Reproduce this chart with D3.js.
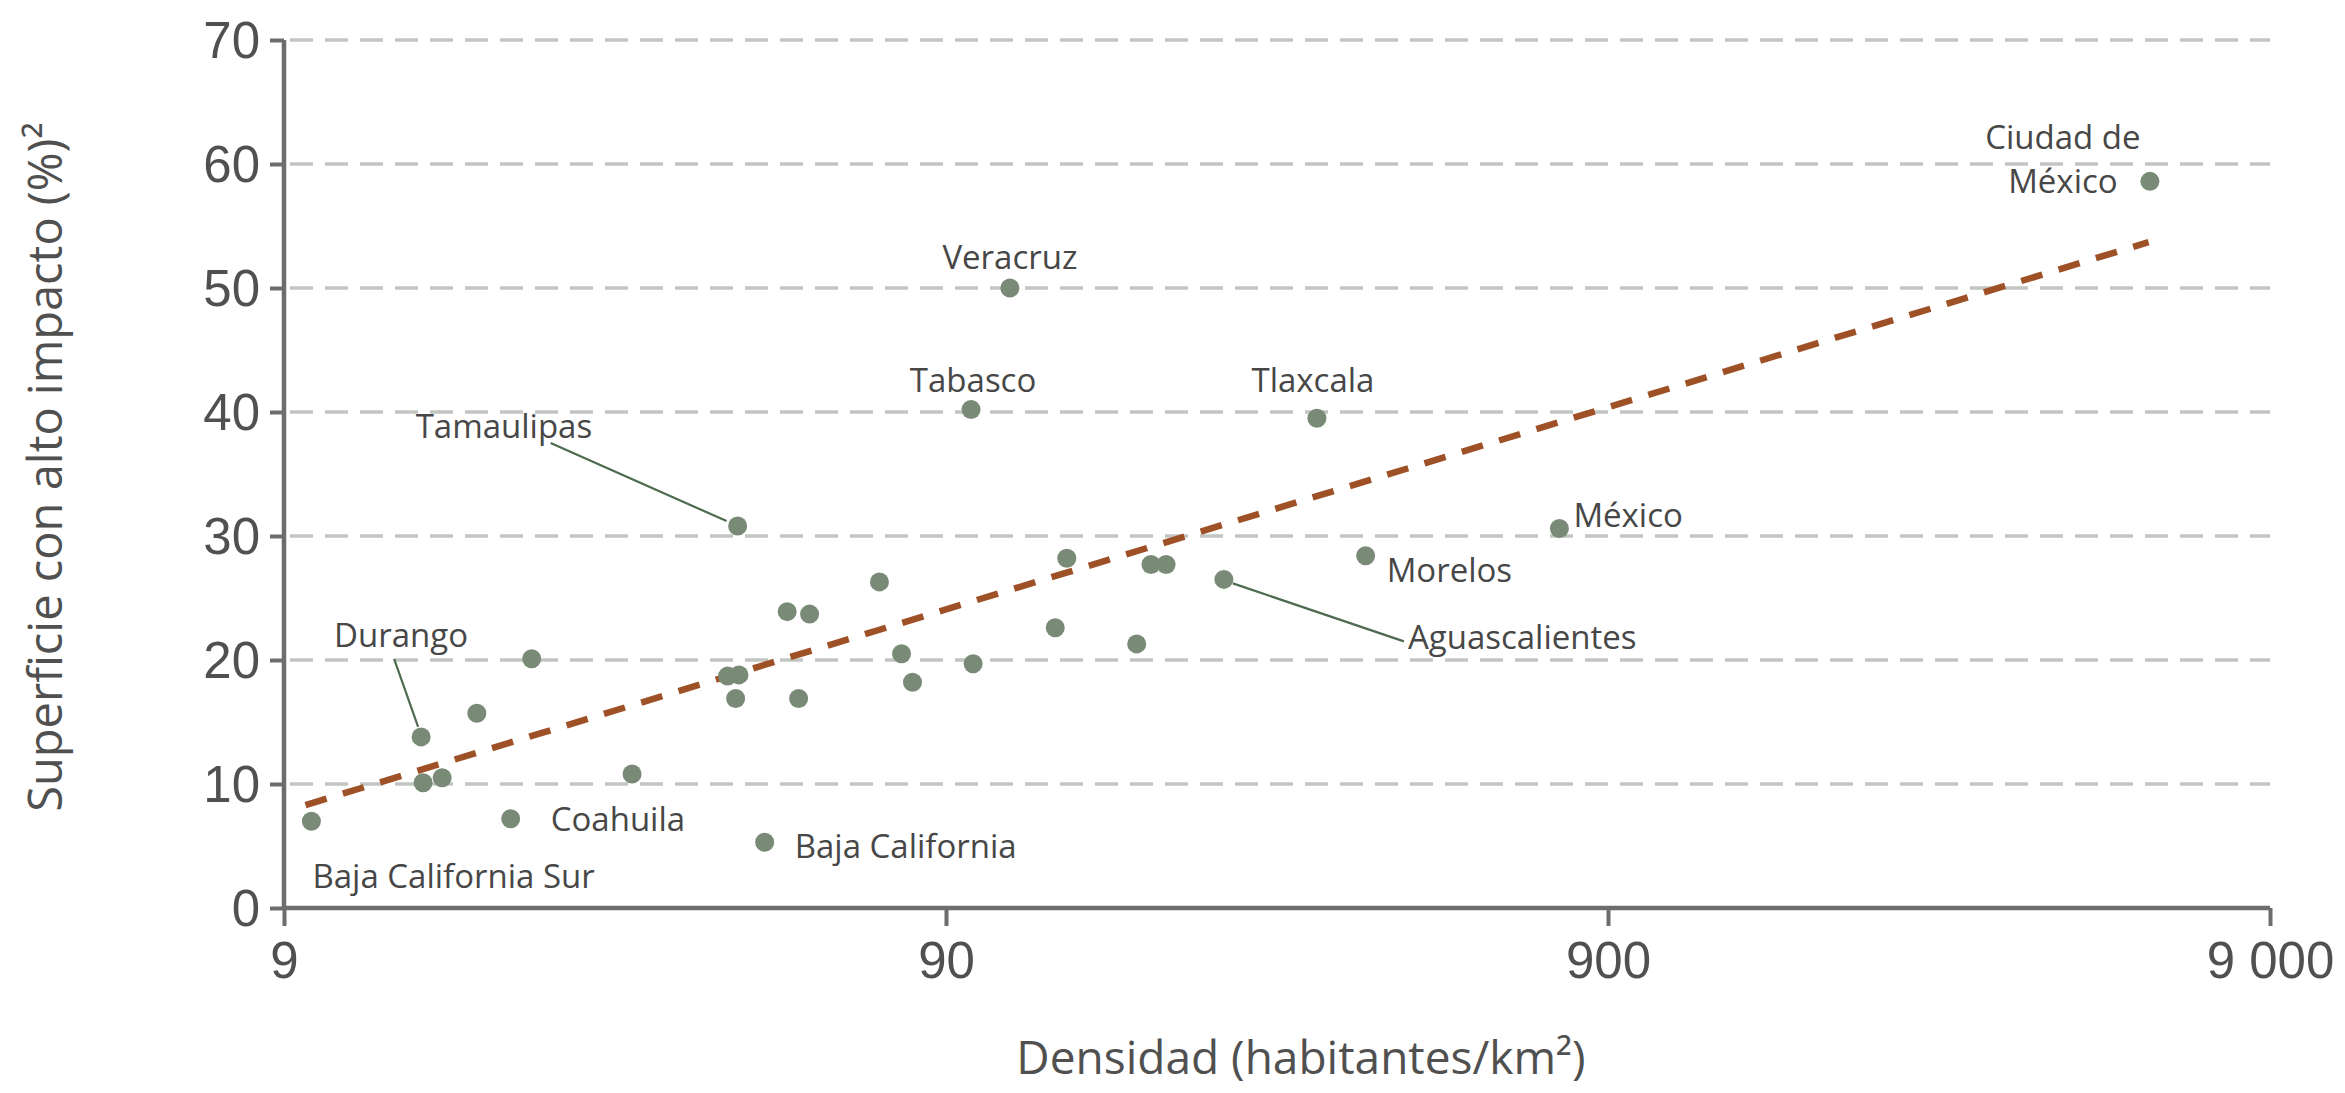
<!DOCTYPE html>
<html>
<head>
<meta charset="utf-8">
<script src="https://cdn.jsdelivr.net/npm/d3@7"></script>
<style>
  html, body { margin: 0; padding: 0; background: #ffffff; }
  svg { display: block; font-family: "Open Sans", "Noto Sans", sans-serif; }
</style>
</head>
<body>
<svg id="chart" width="2345" height="1093"></svg>
<script>
// ---- data ----
const states = ["Baja California Sur","Durango","E3","E4","E5","Coahuila","E7","E8","E9","E10","E11","Tamaulipas","Baja California","E14","E15","E16","E17","E18","E19","E20","Tabasco","Veracruz","E23","E24","E25","E26","E27","Aguascalientes","Tlaxcala","Morelos","México","Ciudad de México"];
const density = [9.9, 14.5, 14.6, 15.6, 17.6, 19.8, 21.3, 30.2, 42.1, 43.8, 43.3, 43.6, 47.9, 51.8, 56.0, 53.9, 71.4, 77.1, 80.1, 98.9, 98.2, 112.4, 131.6, 137.0, 174.7, 183.6, 193.5, 236.6, 327.0, 387.4, 760.0, 5927.0];
const surface = [7.0, 13.8, 10.1, 10.5, 15.7, 7.2, 20.1, 10.8, 18.7, 18.8, 16.9, 30.8, 5.3, 23.9, 23.7, 16.9, 26.3, 20.5, 18.2, 19.7, 40.2, 50.0, 22.6, 28.2, 21.3, 27.7, 27.7, 26.5, 39.5, 28.4, 30.6, 58.6];
const trendDensity = [9.7, 5900];
const trendSurface = [8.3, 53.7];
const xTicks = [9, 90, 900, 9000];
const xTickLabels = ["9", "90", "900", "9 000"];
const yTicks = [0, 10, 20, 30, 40, 50, 60, 70];
const xTitle = "Densidad (habitantes/km²)";
const yTitle = "Superficie con alto impacto (%)²";

// ---- label layout (pixels, relative to each point) ----
const labelLayout = {
  "Veracruz":          { anchor: "middle", dx: 0,   dy: -19, lines: ["Veracruz"] },
  "Tabasco":           { anchor: "middle", dx: 2,   dy: -18, lines: ["Tabasco"] },
  "Tlaxcala":          { anchor: "middle", dx: -4,  dy: -26, lines: ["Tlaxcala"] },
  "Ciudad de México":  { anchor: "middle", dx: -87, dy: -32, lines: ["Ciudad de", "México"], lineGap: 44 },
  "México":            { anchor: "start",  dx: 14,  dy: -2,  lines: ["México"] },
  "Morelos":           { anchor: "start",  dx: 21,  dy: 26,  lines: ["Morelos"] },
  "Aguascalientes":    { anchor: "start",  dx: 184, dy: 70,  lines: ["Aguascalientes"], leader: [[9, 4], [180, 62]] },
  "Tamaulipas":        { anchor: "start",  dx: -322, dy: -88, lines: ["Tamaulipas"], leader: [[-11, -5], [-187, -83]] },
  "Durango":           { anchor: "start",  dx: -87, dy: -90, lines: ["Durango"], leader: [[-3, -10], [-27, -78]] },
  "Coahuila":          { anchor: "start",  dx: 40,  dy: 12,  lines: ["Coahuila"] },
  "Baja California Sur": { anchor: "start", dx: 1, dy: 67, lines: ["Baja California Sur"] },
  "Baja California":   { anchor: "start",  dx: 30,  dy: 16,  lines: ["Baja California"] }
};

// ---- chart ----
const svg = d3.select("#chart");
const x = d3.scaleLog().domain([9, 9000]).range([284, 2270]);
const y = d3.scaleLinear().domain([0, 70]).range([908, 40]);

const axisColor = "#6d6d6d";
const textColor = "#505050";

// gridlines
svg.append("g").selectAll("line")
  .data(yTicks.filter(d => d > 0))
  .join("line")
  .attr("x1", 290).attr("x2", 2270)
  .attr("y1", d => y(d)).attr("y2", d => y(d))
  .attr("stroke", "#c2c6c2").attr("stroke-width", 3.5)
  .attr("stroke-dasharray", "23 12");

// y axis
const yAxis = d3.axisLeft(y).tickValues(yTicks).tickSize(14).tickPadding(10).tickFormat(d3.format("d"));
const gy = svg.append("g").attr("transform", "translate(284,0)").call(yAxis);
gy.select(".domain").attr("stroke", axisColor).attr("stroke-width", 4.5).attr("d", `M0,${y(70)}V${y(0)}`);
gy.selectAll(".tick line").attr("stroke", axisColor).attr("stroke-width", 4);
gy.selectAll(".tick text").attr("fill", textColor).style("font-size", "51px").attr("dy", "0.35em");

// x axis
const xAxis = d3.axisBottom(x).tickValues(xTicks).tickSize(18).tickPadding(16)
  .tickFormat((d, i) => xTickLabels[i]);
const gx = svg.append("g").attr("transform", `translate(0,${y(0)})`).call(xAxis);
gx.select(".domain").attr("stroke", axisColor).attr("stroke-width", 4.5).attr("d", `M${x(9)},0H${x(9000)}`);
gx.selectAll(".tick line").attr("stroke", axisColor).attr("stroke-width", 4);
gx.selectAll(".tick text").attr("fill", textColor).style("font-size", "51px");

// axis titles
svg.append("text")
  .attr("x", 1301).attr("y", 1074)
  .attr("text-anchor", "middle")
  .attr("fill", textColor).style("font-size", "46px")
  .text(xTitle);
svg.append("text")
  .attr("transform", "translate(62,467) rotate(-90)")
  .attr("text-anchor", "middle")
  .attr("fill", textColor).style("font-size", "47px")
  .text(yTitle);

// trend line
const trend = trendDensity.map((d, i) => [d, trendSurface[i]]);
svg.append("path")
  .datum(trend)
  .attr("d", d3.line().x(d => x(d[0])).y(d => y(d[1])))
  .attr("fill", "none")
  .attr("stroke", "#9e5126").attr("stroke-width", 6.5)
  .attr("stroke-dasharray", "22 17");

// points
const pts = states.map((s, i) => ({ name: s, d: density[i], v: surface[i] }));

// leader lines
svg.append("g").selectAll("line")
  .data(pts.filter(p => labelLayout[p.name] && labelLayout[p.name].leader))
  .join("line")
  .attr("x1", p => x(p.d) + labelLayout[p.name].leader[0][0])
  .attr("y1", p => y(p.v) + labelLayout[p.name].leader[0][1])
  .attr("x2", p => x(p.d) + labelLayout[p.name].leader[1][0])
  .attr("y2", p => y(p.v) + labelLayout[p.name].leader[1][1])
  .attr("stroke", "#4f6b4f").attr("stroke-width", 2.2);

svg.append("g").selectAll("circle")
  .data(pts)
  .join("circle")
  .attr("cx", p => x(p.d))
  .attr("cy", p => y(p.v))
  .attr("r", 9.5)
  .attr("fill", "#798a77");

// labels
const lg = svg.append("g");
pts.filter(p => labelLayout[p.name]).forEach(p => {
  const L = labelLayout[p.name];
  const t = lg.append("text")
    .attr("x", x(p.d) + L.dx)
    .attr("y", y(p.v) + L.dy)
    .attr("text-anchor", L.anchor)
    .attr("fill", "#474747")
    .style("font-size", "33px");
  L.lines.forEach((line, k) => {
    t.append("tspan")
      .attr("x", x(p.d) + L.dx)
      .attr("dy", k === 0 ? 0 : (L.lineGap || 40))
      .text(line);
  });
});
</script>
</body>
</html>
